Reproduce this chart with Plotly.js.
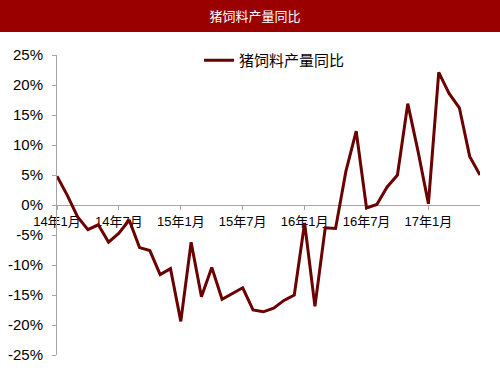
<!DOCTYPE html>
<html>
<head>
<meta charset="utf-8">
<script src="https://cdn.plot.ly/plotly-3.0.1.min.js"></script>
<style>html,body{margin:0;padding:0;background:#fff;}#chart{width:500px;height:375px;}</style>
</head>
<body>
<div id="chart"></div>
<script>
// months 2014-01 .. 2017-06
const months = [];
for (let y = 14; y <= 17; y++) {
  for (let m = 1; m <= 12; m++) {
    if (y === 17 && m > 6) break;
    months.push(y + "年" + m + "月");
  }
}
const yoy = [4.8, 1.6, -2.0, -4.1, -3.3, -6.2, -4.7, -2.5, -7.1, -7.6, -11.6, -10.6,
             -19.4, -6.2, -15.3, -10.4, -15.7, -14.7, -13.8, -17.5, -17.8, -17.2, -15.9, -15.0,
             -3.0, -16.9, -3.8, -3.9, 5.6, 12.3, -0.5, 0.1, 3.0, 5.0, 16.9, 8.9,
             0.2, 22.1, 18.6, 16.2, 8.1, 5.0];
const xTicks = ["14年1月", "14年7月", "15年1月", "15年7月", "16年1月", "16年7月", "17年1月"];
const yTicks = [-25, -20, -15, -10, -5, 0, 5, 10, 15, 20, 25];
const yTickText = yTicks.map(v => v + "%");
const seriesName = "猪饲料产量同比";
const titleText = "猪饲料产量同比";

const W = 500, H = 375, L = 57, R = 20, T = 55, B = 20;
const pw = W - L - R, ph = H - T - B;

const trace = {
  x: months, y: yoy, type: "scatter", mode: "lines", name: seriesName,
  line: {color: "#6b0000", width: 3}
};

const layout = {
  width: W, height: H,
  margin: {l: L, r: R, t: T, b: B},
  paper_bgcolor: "#fff", plot_bgcolor: "rgba(0,0,0,0)",
  font: {family: "Liberation Sans, Arial, sans-serif", color: "#000"},
  title: {text: titleText, x: 0.51, xanchor: "center", y: 1 - 16 / H, yanchor: "middle",
          font: {family: "Noto Sans CJK SC", size: 13, color: "#fff"}},
  showlegend: true,
  legend: {x: (199 - L) / pw, y: 1 - (44 - T) / ph, xanchor: "left", yanchor: "top",
           bgcolor: "rgba(0,0,0,0)", font: {family: "Noto Sans CJK SC", size: 15, color: "#000"}},
  xaxis: {
    type: "category", categoryorder: "array", categoryarray: months,
    range: [0, months.length - 1],
    anchor: "free", position: 0.5,
    tickmode: "array", tickvals: xTicks, ticktext: xTicks,
    showline: true, linecolor: "#a6a6a6", linewidth: 1,
    ticks: "outside", ticklen: 4, tickcolor: "#a6a6a6",
    showgrid: false, zeroline: false, layer: "below traces",
    tickfont: {family: "Liberation Sans, Noto Sans CJK SC", size: 13, color: "#000"}
  },
  yaxis: {
    range: [-25, 25], tickmode: "array", tickvals: yTicks, ticktext: yTickText,
    showline: true, linecolor: "#a6a6a6", linewidth: 1,
    ticks: "outside", ticklen: 4, tickcolor: "#a6a6a6", ticklabelstandoff: 6,
    showgrid: false, zeroline: false,
    tickfont: {family: "Liberation Sans", size: 15, color: "#000"}
  },
  shapes: [{
    type: "rect", xref: "paper", yref: "paper",
    x0: -L / pw, x1: 1 + R / pw, y0: 1 + (T - 32) / ph, y1: 1 + T / ph,
    fillcolor: "#9b0000", line: {width: 0}, layer: "below"
  }]
};

Plotly.newPlot("chart", [trace], layout, {staticPlot: true, displayModeBar: false});
</script>
</body>
</html>
